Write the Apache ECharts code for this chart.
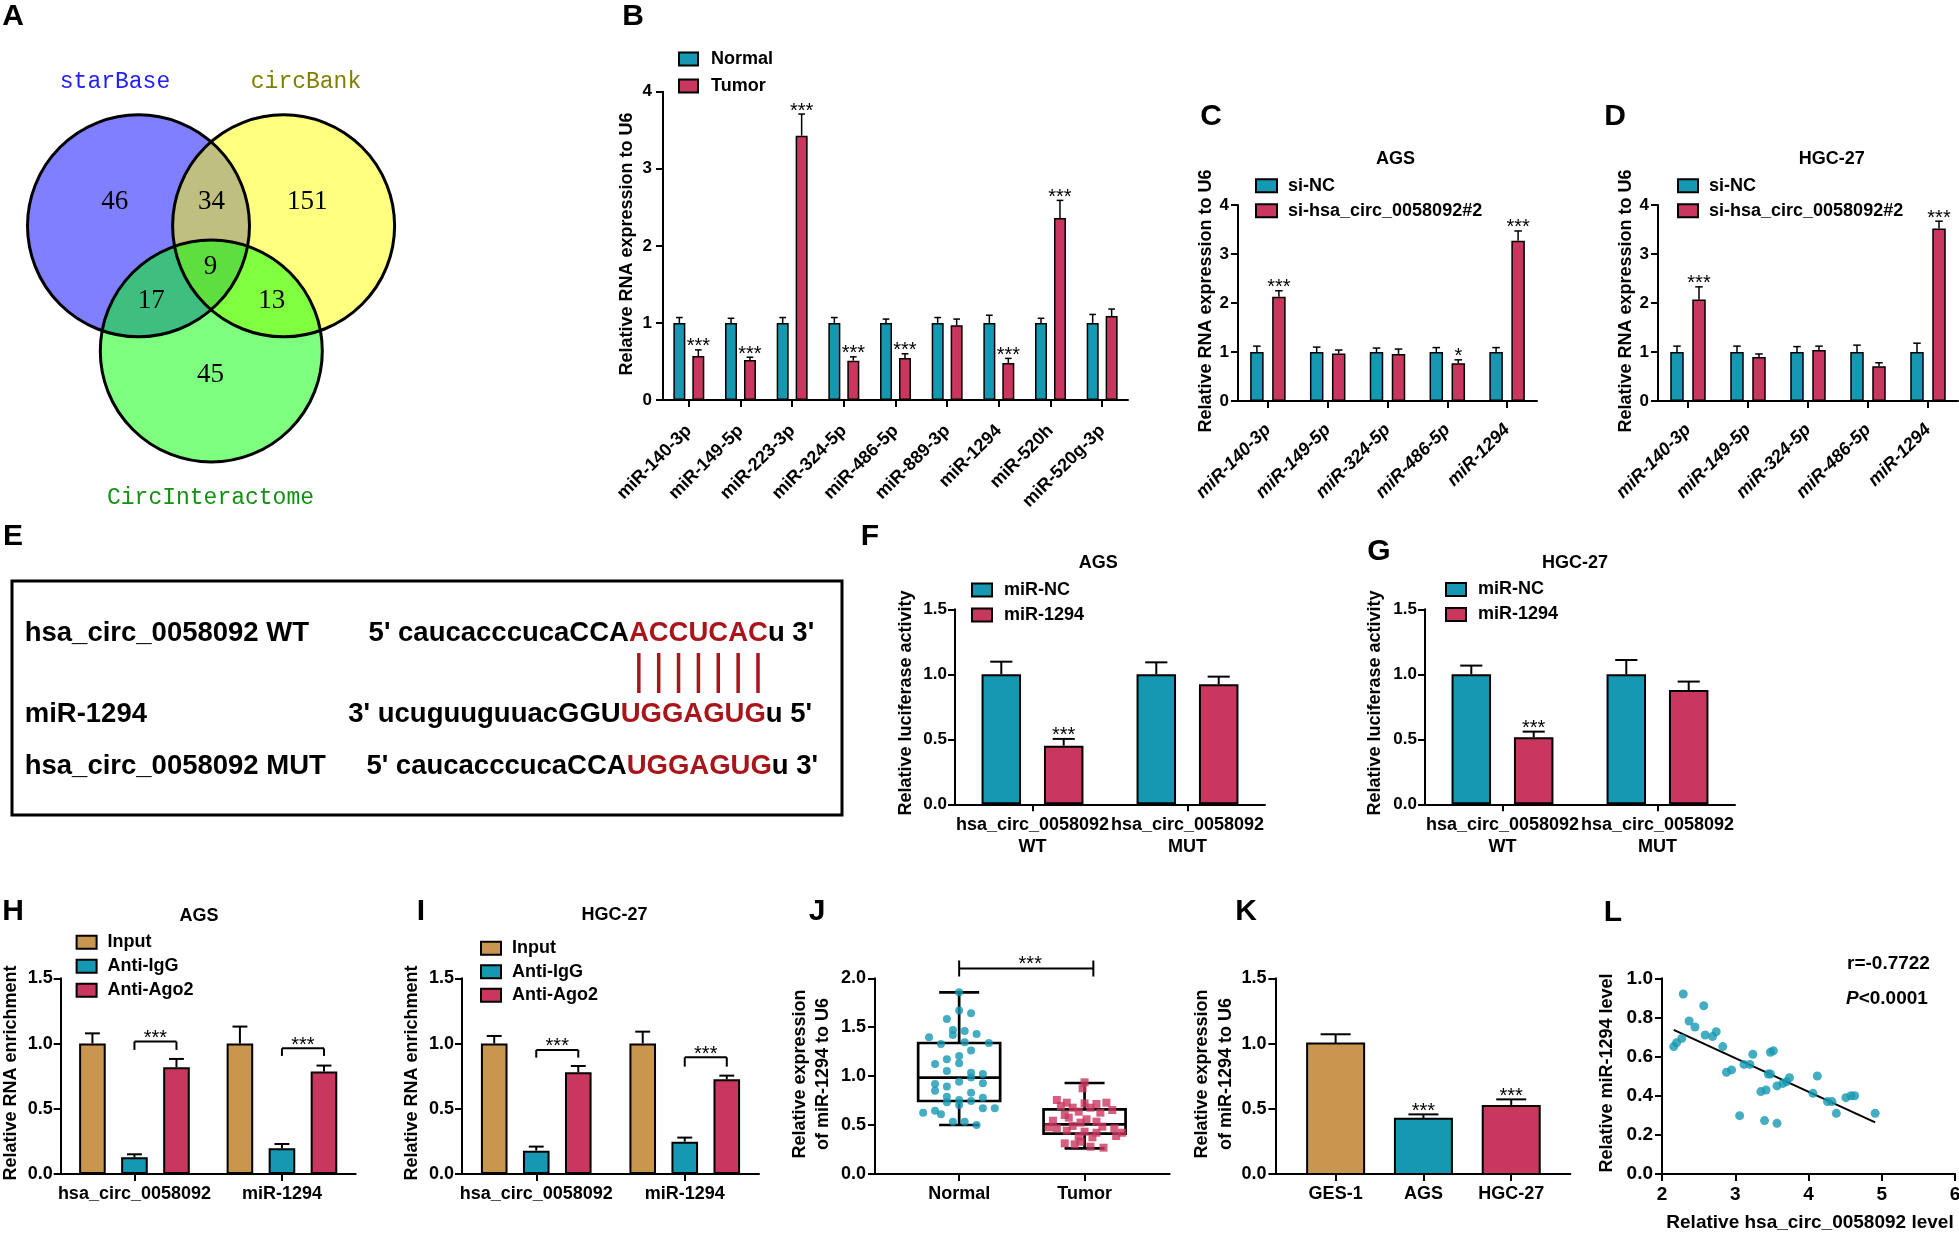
<!DOCTYPE html>
<html><head><meta charset="utf-8">
<script src="https://cdn.jsdelivr.net/npm/echarts@6/dist/echarts.min.js"></script>
<style>html,body{margin:0;padding:0;background:#fff}#c{width:1959px;height:1234px}</style>
</head><body><div id="c"></div>
<script>
// ================= DATA =================
// A: Venn
const vennLabels = ['starBase', 'circBank', 'CircInteractome'];
// region counts: A only, A∩B, B only, A∩C, A∩B∩C, B∩C, C only
const vennCounts = [46, 34, 151, 17, 9, 13, 45];

// B
const bCats = ['miR-140-3p','miR-149-5p','miR-223-3p','miR-324-5p','miR-486-5p','miR-889-3p','miR-1294','miR-520h','miR-520g-3p'];
const bSeries = ['Normal', 'Tumor'];
const bNormal = [1, 1, 1, 1, 1, 1, 1, 1, 1];
const bNormalErr = [0.07, 0.06, 0.07, 0.07, 0.05, 0.07, 0.10, 0.06, 0.11];
const bTumor = [0.57, 0.52, 3.43, 0.51, 0.545, 0.97, 0.48, 2.36, 1.09];
const bTumorErr = [0.08, 0.035, 0.28, 0.05, 0.055, 0.08, 0.06, 0.23, 0.09];
const bSig = ['***', '***', '***', '***', '***', '', '***', '***', ''];

// C / D
const cdCats = ['miR-140-3p','miR-149-5p','miR-324-5p','miR-486-5p','miR-1294'];
const cdSeries = ['si-NC', 'si-hsa_circ_0058092#2'];
const cNC = [1, 1, 1, 1, 1];
const cNCErr = [0.12, 0.10, 0.08, 0.09, 0.09];
const cSi = [2.13, 0.97, 0.96, 0.77, 3.27];
const cSiErr = [0.12, 0.07, 0.10, 0.07, 0.20];
const cSig = ['***', '', '', '*', '***'];
const dNC = [1, 1, 1, 1, 1];
const dNCErr = [0.12, 0.12, 0.11, 0.14, 0.18];
const dSi = [2.07, 0.90, 1.04, 0.71, 3.52];
const dSiErr = [0.26, 0.06, 0.08, 0.07, 0.15];
const dSig = ['***', '', '', '', '***'];

// E: sequences
const eNames = ['hsa_circ_0058092 WT', 'miR-1294', 'hsa_circ_0058092 MUT'];
const eSeqParts = [
  ["5' caucacccucaCCA", 'ACCUCAC', "u 3'"],
  ["3' ucuguuguuacGGU", 'UGGAGUG', "u 5'"],
  ["5' caucacccucaCCA", 'UGGAGUG', "u 3'"]
];

// F / G
const fgCats = ['hsa_circ_0058092\nWT', 'hsa_circ_0058092\nMUT'];
const fgSeries = ['miR-NC', 'miR-1294'];
const fNC = [1, 1];
const fNCErr = [0.097, 0.092];
const f1294 = [0.451, 0.923];
const f1294Err = [0.052, 0.059];
const fSig = ['***', ''];
const gNC = [1, 1];
const gNCErr = [0.067, 0.11];
const g1294 = [0.515, 0.879];
const g1294Err = [0.044, 0.065];
const gSig = ['***', ''];

// H / I
const hiCats = ['hsa_circ_0058092', 'miR-1294'];
const hiSeries = ['Input', 'Anti-IgG', 'Anti-Ago2'];
const hInput = [1, 1];
const hInputErr = [0.078, 0.13];
const hIgG = [0.128, 0.197];
const hIgGErr = [0.023, 0.033];
const hAgo = [0.818, 0.785];
const hAgoErr = [0.064, 0.046];
const hBrLine = [1.015, 0.963];
const hBrEnd = [0.951, 0.905];
const iInput = [1, 1];
const iInputErr = [0.058, 0.091];
const iIgG = [0.179, 0.248];
const iIgGErr = [0.031, 0.031];
const iAgo = [0.779, 0.726];
const iAgoErr = [0.049, 0.028];
const iBrLine = [0.951, 0.894];
const iBrEnd = [0.892, 0.823];

// J: box plots [min, q1, median, q3, max] and points [jitter, value]
const jCats = ['Normal', 'Tumor'];
const jNormalBox = [0.501, 0.746, 0.985, 1.339, 1.857];
const jTumorBox = [0.262, 0.412, 0.508, 0.661, 0.930];
const jNormalPts = [[0,1.857],[0,1.670],[0.095,1.642],[-0.098,1.584],[-0.05,1.472],[0.044,1.462],[-0.05,1.421],[-0.24,1.397],[0.139,1.431],[0.044,1.346],[0.237,1.339],[-0.145,1.329],[0.095,1.261],[0,1.206],[-0.098,1.172],[-0.192,1.124],[0,1.131],[-0.098,1.053],[0.095,1.036],[0.189,1.022],[0.095,0.985],[-0.192,0.920],[0,0.944],[0.189,0.927],[-0.098,0.893],[-0.192,0.852],[0.095,0.831],[-0.098,0.790],[0,0.756],[0.189,0.780],[-0.098,0.733],[0.095,0.746],[0,0.705],[0.189,0.671],[0.284,0.671],[-0.287,0.627],[-0.192,0.647],[-0.145,0.610],[-0.05,0.535],[0.044,0.535],[0.139,0.501]];
const jTumorPts = [[0,0.937],[-0.016,0.876],[-0.221,0.756],[-0.142,0.729],[0,0.722],[0.095,0.716],[0.174,0.729],[-0.189,0.695],[-0.095,0.678],[0.047,0.678],[0.221,0.654],[-0.047,0.637],[-0.158,0.603],[0.126,0.627],[-0.126,0.576],[0.016,0.559],[-0.252,0.545],[-0.032,0.525],[0.095,0.535],[-0.095,0.491],[-0.284,0.477],[-0.221,0.467],[0.142,0.484],[0.237,0.467],[-0.142,0.443],[0,0.433],[0.095,0.422],[0.300,0.422],[-0.047,0.382],[0.063,0.375],[0.252,0.388],[-0.158,0.313],[-0.079,0.303],[0.047,0.279],[0.151,0.269],[-0.032,0.330]];
const jBracket = [0, 1.07, 2.1];

// K
const kCats = ['GES-1', 'AGS', 'HGC-27'];
const kVals = [1, 0.424, 0.521];
const kErr = [0.071, 0.033, 0.051];
const kSig = ['', '***', '***'];

// L
const lPts = [[2.29,0.92],[2.57,0.86],[2.37,0.782],[2.45,0.751],[2.59,0.71],[2.69,0.702],[2.74,0.727],[2.16,0.651],[2.20,0.671],[2.27,0.693],[2.83,0.651],[2.88,0.52],[2.95,0.532],[3.06,0.298],[3.12,0.56],[3.20,0.56],[3.24,0.612],[3.35,0.421],[3.42,0.429],[3.40,0.273],[3.45,0.511],[3.48,0.511],[3.48,0.622],[3.52,0.63],[3.57,0.45],[3.57,0.259],[3.65,0.463],[3.70,0.472],[3.74,0.492],[4.06,0.412],[4.12,0.501],[4.26,0.37],[4.32,0.37],[4.38,0.31],[4.51,0.39],[4.58,0.40],[4.63,0.40],[4.91,0.31]];
const lFit = [[2.16, 0.736], [4.91, 0.264]];
const lStats = ['r=-0.7722', '<0.0001'];

// ================= STYLE =================
const FF = '"Liberation Sans", Arial, Helvetica, sans-serif';
const TEAL = '#1598B1', RED = '#C9375F', TAN = '#C8964F', SEQRED = '#A8151B';

function yAx(gi, max, interval, dec, fs, margin) {
  return {type: 'value', gridIndex: gi, min: 0, max: max, interval: interval,
    axisLine: {show: true, onZero: false, lineStyle: {color: '#000', width: 2}},
    axisTick: {show: true, length: 7, lineStyle: {color: '#000', width: 2}},
    splitLine: {show: false},
    axisLabel: {color: '#000', fontFamily: FF, fontWeight: 'bold', fontSize: fs, margin: margin || 8,
      formatter: v => v.toFixed(dec)}};
}
function xCat(gi, data, lab) {
  return {type: 'category', gridIndex: gi, data: data,
    axisLine: {show: true, onZero: false, lineStyle: {color: '#000', width: 2}},
    axisTick: {show: true, alignWithLabel: true, length: 7, lineStyle: {color: '#000', width: 2}},
    splitLine: {show: false},
    axisLabel: Object.assign({color: '#000', fontFamily: FF, fontWeight: 'bold', fontSize: 18, interval: 0, margin: 9}, lab || {})};
}
function xVal(gi, min, max, ticks, names, fs) {
  return {type: 'value', gridIndex: gi, min: min, max: max,
    axisLine: {show: true, onZero: false, lineStyle: {color: '#000', width: 2}},
    axisTick: {show: true, length: 7, customValues: ticks, lineStyle: {color: '#000', width: 2}},
    splitLine: {show: false},
    axisLabel: {color: '#000', fontFamily: FF, fontWeight: 'bold', fontSize: fs, margin: 11,
      customValues: ticks, formatter: v => names[Math.round(v)]}};
}
function bar(name, gi, data, color, bw, gapPct, bwid) {
  return {type: 'bar', name: name, xAxisIndex: gi, yAxisIndex: gi, data: data,
    barWidth: bw, barGap: gapPct + '%', z: 2,
    itemStyle: {color: color, borderColor: '#000', borderWidth: bwid}};
}
function err(gi, vals, errs, i, n, bw, gapPct, sig, lw) {
  const gap = bw * gapPct / 100;
  return {type: 'custom', xAxisIndex: gi, yAxisIndex: gi, z: 4, silent: true,
    data: vals.map((v, k) => [k, v, v + errs[k]]),
    encode: {x: 0, y: [1, 2]},
    renderItem: (p, api) => {
      const k = api.value(0);
      const b = api.coord([k, api.value(1)]);
      const t = api.coord([k, api.value(2)]);
      const total = n * bw + (n - 1) * gap;
      const x = b[0] - total / 2 + i * (bw + gap) + bw / 2;
      const cap = bw * 0.28;
      const ch = [
        {type: 'line', shape: {x1: x, y1: b[1], x2: x, y2: t[1]}, style: {stroke: '#000', lineWidth: lw}},
        {type: 'line', shape: {x1: x - cap, y1: t[1], x2: x + cap, y2: t[1]}, style: {stroke: '#000', lineWidth: lw}}
      ];
      const s = sig ? sig[p.dataIndex] : '';
      if (s) ch.push({type: 'text', x: x, y: t[1] - 3, style: {text: s, font: '20px ' + FF, fill: '#000', align: 'center', verticalAlign: 'middle'}});
      return {type: 'group', children: ch};
    }};
}
function bracket(gi, lineVals, endVals, i1, i2, n, bw, gapPct) {
  const gap = bw * gapPct / 100;
  return {type: 'custom', xAxisIndex: gi, yAxisIndex: gi, z: 4, silent: true,
    data: lineVals.map((v, k) => [k, v, endVals[k]]),
    encode: {x: 0, y: [1, 2]},
    renderItem: (p, api) => {
      const k = api.value(0);
      const a = api.coord([k, api.value(1)]);
      const e = api.coord([k, api.value(2)]);
      const total = n * bw + (n - 1) * gap;
      const x1 = a[0] - total / 2 + i1 * (bw + gap) + bw / 2;
      const x2 = a[0] - total / 2 + i2 * (bw + gap) + bw / 2;
      const st = {stroke: '#000', lineWidth: 2};
      return {type: 'group', children: [
        {type: 'line', shape: {x1: x1, y1: a[1], x2: x2, y2: a[1]}, style: st},
        {type: 'line', shape: {x1: x1, y1: a[1], x2: x1, y2: e[1]}, style: st},
        {type: 'line', shape: {x1: x2, y1: a[1], x2: x2, y2: e[1]}, style: st},
        {type: 'text', x: (x1 + x2) / 2, y: a[1] - 3, style: {text: '***', font: '20px ' + FF, fill: '#000', align: 'center', verticalAlign: 'middle'}}
      ]};
    }};
}
function legend(names, left, top, iw, ih, gap, pad) {
  return {data: names, left: left, top: top, orient: 'vertical', icon: 'rect',
    itemWidth: iw, itemHeight: ih, itemGap: gap, padding: 0, selectedMode: false,
    textStyle: {fontFamily: FF, fontWeight: 'bold', fontSize: 18, color: '#000', lineHeight: 18, padding: [0, 0, 0, pad]}};
}

// ================= GRAPHIC (non-data decorations) =================
const G = [];
function T(x, y, text, font, o) {
  o = o || {};
  G.push({type: 'text', x: x, y: y, rotation: o.rot || 0, z: 20, silent: true,
    style: {text: text, font: font, fill: o.fill || '#000', align: o.align || 'center',
      verticalAlign: o.va || 'middle', lineHeight: o.lh}});
}
const LET = 'bold 30px ' + FF;
[['A',13,17],['B',633,17],['C',1211,117],['D',1615,117],['E',13,537],['F',870,537],['G',1379,552],
 ['H',13,912],['I',421,912],['J',817,912],['K',1246,912],['L',1613,913]].forEach(a => T(a[1], a[2], a[0], LET));

// titles
const TIT = 'bold 18px ' + FF;
T(1395.5, 159, 'AGS', TIT); T(1831.8, 159, 'HGC-27', TIT);
T(1098.3, 563, 'AGS', TIT); T(1574.9, 563, 'HGC-27', TIT);
T(199, 916, 'AGS', TIT); T(614.4, 915, 'HGC-27', TIT);

// axis names
const AN = 'bold 18px ' + FF, R90 = Math.PI / 2;
T(627, 244, 'Relative RNA expression to U6', AN, {rot: R90});
T(1206, 301, 'Relative RNA expression to U6', AN, {rot: R90});
T(1626, 301, 'Relative RNA expression to U6', AN, {rot: R90});
T(905.6, 703, 'Relative luciferase activity', AN, {rot: R90});
T(1375, 703, 'Relative luciferase activity', AN, {rot: R90});
T(11, 1073, 'Relative RNA enrichment', AN, {rot: R90});
T(412, 1073, 'Relative RNA enrichment', AN, {rot: R90});
T(811.6, 1074, 'Relative expression\nof miR-1294 to U6', AN, {rot: R90, lh: 23.7});
T(1214, 1074, 'Relative expression\nof miR-1294 to U6', AN, {rot: R90, lh: 23.7});
T(1606.8, 1073, 'Relative miR-1294 level', AN, {rot: R90});
T(1810, 1223, 'Relative hsa_circ_0058092 level', 'bold 19px ' + FF);

// measure helper
const mctx = document.createElement('canvas').getContext('2d');
function mw(font, s) { mctx.font = font; return mctx.measureText(s).width; }

// L stats
const SF = 'bold 19px ' + FF;
T(1847, 963.3, lStats[0], SF, {align: 'left'});
T(1846, 998.3, 'P', 'italic bold 19px ' + FF, {align: 'left'});
T(1846 + mw('italic bold 19px ' + FF, 'P'), 998.3, lStats[1], SF, {align: 'left'});

// A: Venn
const vennCircles = [[138.5, 225.8, 'rgba(0,0,255,0.5)'], [283.6, 225.8, 'rgba(255,255,0,0.5)'], [211.3, 351, 'rgba(0,255,0,0.5)']];
vennCircles.forEach(c => G.push({type: 'circle', shape: {cx: c[0], cy: c[1], r: 111}, style: {fill: c[2]}, z: 5, silent: true}));
vennCircles.forEach(c => G.push({type: 'circle', shape: {cx: c[0], cy: c[1], r: 111}, style: {fill: 'none', stroke: '#000', lineWidth: 3}, z: 6, silent: true}));
const vennLabelPos = [[115, 82, '#1E1EFF'], [306, 82, '#808000'], [210.5, 498, '#119011']];
vennLabels.forEach((s, k) => T(vennLabelPos[k][0], vennLabelPos[k][1], s, '23px "Liberation Mono", "DejaVu Sans Mono", monospace', {fill: vennLabelPos[k][2]}));
const vennNumPos = [[114.8, 202.3], [211.6, 202.3], [307.3, 202.3], [151.2, 301], [210.5, 267], [271.7, 301], [210.5, 375]];
vennCounts.forEach((n, k) => T(vennNumPos[k][0], vennNumPos[k][1], String(n), '27px "Liberation Serif", "DejaVu Serif", serif'));

// E: sequence box
G.push({type: 'rect', shape: {x: 12, y: 581, width: 830, height: 234}, style: {fill: 'none', stroke: '#000', lineWidth: 3}, z: 5, silent: true});
const EF = 'bold 27.5px ' + FF;
const eRowY = [633.3, 714, 766.7];
const eSeqX = [368.6, 348.3, 366.4];
eNames.forEach((s, r) => {
  T(24.7, eRowY[r], s, EF, {align: 'left'});
  let x = eSeqX[r];
  eSeqParts[r].forEach((part, j) => {
    T(x, eRowY[r], part, EF, {align: 'left', fill: j === 1 ? SEQRED : '#000'});
    x += mw(EF, part);
  });
});
// pairing lines under WT red letters
(function () {
  const pre = eSeqParts[0][0], red = eSeqParts[0][1];
  for (let i = 0; i < red.length; i++) {
    const cx = eSeqX[0] + mw(EF, pre + red.slice(0, i)) + mw(EF, red[i]) / 2;
    G.push({type: 'line', shape: {x1: cx, y1: 653, x2: cx, y2: 693}, style: {stroke: SEQRED, lineWidth: 3.5}, z: 5, silent: true});
  }
})();

// ================= OPTION =================
const grids = [
  {left: 663, top: 91.7, width: 465, height: 308.3},     // B
  {left: 1238, top: 205, width: 299, height: 196},       // C
  {left: 1658, top: 205, width: 300, height: 196},       // D
  {left: 955, top: 609.3, width: 310, height: 195},      // F
  {left: 1425, top: 609.3, width: 310, height: 195},     // G
  {left: 60.7, top: 978.3, width: 295, height: 195.7},   // H
  {left: 462, top: 978.3, width: 297, height: 195.7},    // I
  {left: 875, top: 978.3, width: 294.6, height: 195.7},  // J
  {left: 1275.4, top: 978.3, width: 295, height: 195.7}, // K
  {left: 1662, top: 978.3, width: 293, height: 195.7}    // L
].map(g => Object.assign({containLabel: false, outerBoundsMode: 'none'}, g));

const xAxes = [
  xCat(0, bCats, {rotate: 45, margin: 28}),
  xCat(1, cdCats, {rotate: 45, margin: 26, fontStyle: 'italic'}),
  xCat(2, cdCats, {rotate: 45, margin: 26, fontStyle: 'italic'}),
  xCat(3, fgCats, {lineHeight: 22, margin: 10}),
  xCat(4, fgCats, {lineHeight: 22, margin: 10}),
  xCat(5, hiCats, {margin: 11}),
  xCat(6, hiCats, {margin: 11}),
  xVal(7, -0.671, 1.678, [0, 1], jCats, 18),
  xVal(8, -0.686, 2.674, [0, 1, 2], kCats, 18),
  {type: 'value', gridIndex: 9, min: 2, max: 6, interval: 1,
    axisLine: {show: true, onZero: false, lineStyle: {color: '#000', width: 2}},
    axisTick: {show: true, length: 7, lineStyle: {color: '#000', width: 2}},
    splitLine: {show: false},
    axisLabel: {color: '#000', fontFamily: FF, fontWeight: 'bold', fontSize: 19, margin: 11}}
];
const yAxes = [
  yAx(0, 4, 1, 0, 17, 11), yAx(1, 4, 1, 0, 17, 9), yAx(2, 4, 1, 0, 17, 9),
  yAx(3, 1.5, 0.5, 1, 17, 8), yAx(4, 1.5, 0.5, 1, 17, 8),
  yAx(5, 1.5, 0.5, 1, 18, 8), yAx(6, 1.5, 0.5, 1, 18, 8),
  yAx(7, 2, 0.5, 1, 18, 9), yAx(8, 1.5, 0.5, 1, 18, 9), yAx(9, 1, 0.2, 1, 19, 9)
];

const series = [
  // B
  bar(bSeries[0], 0, bNormal, TEAL, 12, 58, 1.5), bar(bSeries[1], 0, bTumor, RED, 12, 58, 1.5),
  err(0, bNormal, bNormalErr, 0, 2, 12, 58, null, 1.5), err(0, bTumor, bTumorErr, 1, 2, 12, 58, bSig, 1.5),
  // C
  bar(cdSeries[0], 1, cNC, TEAL, 13.5, 63, 1.5), bar(cdSeries[1], 1, cSi, RED, 13.5, 63, 1.5),
  err(1, cNC, cNCErr, 0, 2, 13.5, 63, null, 1.5), err(1, cSi, cSiErr, 1, 2, 13.5, 63, cSig, 1.5),
  // D
  bar(cdSeries[0], 2, dNC, TEAL, 13.5, 63, 1.5), bar(cdSeries[1], 2, dSi, RED, 13.5, 63, 1.5),
  err(2, dNC, dNCErr, 0, 2, 13.5, 63, null, 1.5), err(2, dSi, dSiErr, 1, 2, 13.5, 63, dSig, 1.5),
  // F
  bar(fgSeries[0], 3, fNC, TEAL, 39.5, 58, 2), bar(fgSeries[1], 3, f1294, RED, 39.5, 58, 2),
  err(3, fNC, fNCErr, 0, 2, 39.5, 58, null, 2), err(3, f1294, f1294Err, 1, 2, 39.5, 58, fSig, 2),
  // G
  bar(fgSeries[0], 4, gNC, TEAL, 39.5, 58, 2), bar(fgSeries[1], 4, g1294, RED, 39.5, 58, 2),
  err(4, gNC, gNCErr, 0, 2, 39.5, 58, null, 2), err(4, g1294, g1294Err, 1, 2, 39.5, 58, gSig, 2),
  // H
  bar(hiSeries[0], 5, hInput, TAN, 26.6, 58, 2), bar(hiSeries[1], 5, hIgG, TEAL, 26.6, 58, 2), bar(hiSeries[2], 5, hAgo, RED, 26.6, 58, 2),
  err(5, hInput, hInputErr, 0, 3, 26.6, 58, null, 2), err(5, hIgG, hIgGErr, 1, 3, 26.6, 58, null, 2), err(5, hAgo, hAgoErr, 2, 3, 26.6, 58, null, 2),
  bracket(5, hBrLine, hBrEnd, 1, 2, 3, 26.6, 58),
  // I
  bar(hiSeries[0], 6, iInput, TAN, 26.6, 58, 2), bar(hiSeries[1], 6, iIgG, TEAL, 26.6, 58, 2), bar(hiSeries[2], 6, iAgo, RED, 26.6, 58, 2),
  err(6, iInput, iInputErr, 0, 3, 26.6, 58, null, 2), err(6, iIgG, iIgGErr, 1, 3, 26.6, 58, null, 2), err(6, iAgo, iAgoErr, 2, 3, 26.6, 58, null, 2),
  bracket(6, iBrLine, iBrEnd, 1, 2, 3, 26.6, 58),
  // J boxes
  {type: 'custom', xAxisIndex: 7, yAxisIndex: 7, z: 3, silent: true,
    data: [jNormalBox, jTumorBox].map((b, k) => [k].concat(b)),
    encode: {x: 0, y: [1, 2, 3, 4, 5]},
    renderItem: (p, api) => {
      const x = api.value(0);
      const c = v => api.coord([x, v]);
      const mn = c(api.value(1)), q1 = c(api.value(2)), md = c(api.value(3)), q3 = c(api.value(4)), mx = c(api.value(5));
      const cx = mn[0], hw = 41, cw = 20;
      const st = {stroke: '#000', lineWidth: 2.7, fill: 'none'};
      return {type: 'group', children: [
        {type: 'rect', shape: {x: cx - hw, y: q3[1], width: 2 * hw, height: q1[1] - q3[1]}, style: st},
        {type: 'line', shape: {x1: cx - hw, y1: md[1], x2: cx + hw, y2: md[1]}, style: st},
        {type: 'line', shape: {x1: cx, y1: q3[1], x2: cx, y2: mx[1]}, style: st},
        {type: 'line', shape: {x1: cx, y1: q1[1], x2: cx, y2: mn[1]}, style: st},
        {type: 'line', shape: {x1: cx - cw, y1: mx[1], x2: cx + cw, y2: mx[1]}, style: st},
        {type: 'line', shape: {x1: cx - cw, y1: mn[1], x2: cx + cw, y2: mn[1]}, style: st}
      ]};
    }},
  {type: 'scatter', xAxisIndex: 7, yAxisIndex: 7, z: 5, symbol: 'circle', symbolSize: 8,
    itemStyle: {color: TEAL}, data: jNormalPts.map(p => [0 + p[0], p[1]])},
  {type: 'scatter', xAxisIndex: 7, yAxisIndex: 7, z: 5, symbol: 'rect', symbolSize: 8,
    itemStyle: {color: RED}, data: jTumorPts.map(p => [1 + p[0], p[1]])},
  {type: 'custom', xAxisIndex: 7, yAxisIndex: 7, z: 5, silent: true,
    data: [jBracket],
    encode: {x: [0, 1], y: 2},
    renderItem: (p, api) => {
      const a = api.coord([api.value(0), api.value(2)]);
      const b = api.coord([api.value(1), api.value(2)]);
      const st = {stroke: '#000', lineWidth: 2};
      return {type: 'group', children: [
        {type: 'line', shape: {x1: a[0], y1: a[1], x2: b[0], y2: b[1]}, style: st},
        {type: 'line', shape: {x1: a[0], y1: a[1] - 8, x2: a[0], y2: a[1] + 8}, style: st},
        {type: 'line', shape: {x1: b[0], y1: b[1] - 8, x2: b[0], y2: b[1] + 8}, style: st},
        {type: 'text', x: (a[0] + b[0]) / 2 + 4, y: a[1] - 4, style: {text: '***', font: '20px ' + FF, fill: '#000', align: 'center', verticalAlign: 'middle'}}
      ]};
    }},
  // K bars
  {type: 'custom', xAxisIndex: 8, yAxisIndex: 8, z: 3, silent: true,
    data: kVals.map((v, k) => [k, v, v + kErr[k]]),
    encode: {x: 0, y: [1, 2]},
    renderItem: (p, api) => {
      const k = api.value(0);
      const z0 = api.coord([k, 0]), b = api.coord([k, api.value(1)]), t = api.coord([k, api.value(2)]);
      const bw = 57, cap = 15;
      const colors = [TAN, TEAL, RED];
      const st = {stroke: '#000', lineWidth: 2};
      const ch = [
        {type: 'rect', shape: {x: b[0] - bw / 2, y: b[1], width: bw, height: z0[1] - b[1]}, style: {fill: colors[p.dataIndex], stroke: '#000', lineWidth: 2}},
        {type: 'line', shape: {x1: b[0], y1: b[1], x2: b[0], y2: t[1]}, style: st},
        {type: 'line', shape: {x1: b[0] - cap, y1: t[1], x2: b[0] + cap, y2: t[1]}, style: st}
      ];
      const s = kSig[p.dataIndex];
      if (s) ch.push({type: 'text', x: b[0], y: t[1] - 3, style: {text: s, font: '20px ' + FF, fill: '#000', align: 'center', verticalAlign: 'middle'}});
      return {type: 'group', children: ch};
    }},
  // L
  {type: 'scatter', xAxisIndex: 9, yAxisIndex: 9, z: 5, symbol: 'circle', symbolSize: 9,
    itemStyle: {color: TEAL}, data: lPts},
  {type: 'line', xAxisIndex: 9, yAxisIndex: 9, z: 4, symbol: 'none', data: lFit,
    lineStyle: {color: '#000', width: 2}}
];

const option = {
  animation: false,
  backgroundColor: '#fff',
  textStyle: {fontFamily: FF},
  grid: grids,
  xAxis: xAxes,
  yAxis: yAxes,
  legend: [
    legend(bSeries, 678, 50, 19, 13, 9, 8),
    legend(cdSeries, 1255, 176.7, 21, 13, 7, 6),
    legend(cdSeries, 1677, 176.7, 20, 13, 7, 6),
    legend(fgSeries, 971, 581, 20, 13, 7, 7),
    legend(fgSeries, 1445, 580.5, 20, 13, 7, 7),
    legend(hiSeries, 75.6, 933.3, 20, 13, 6, 6),
    legend(hiSeries, 480, 939.3, 20, 13, 5.5, 6)
  ],
  series: series,
  graphic: G
};
const chart = echarts.init(document.getElementById('c'), null, {renderer: 'canvas', width: 1959, height: 1234});
chart.setOption(option);
</script>
</body></html>
